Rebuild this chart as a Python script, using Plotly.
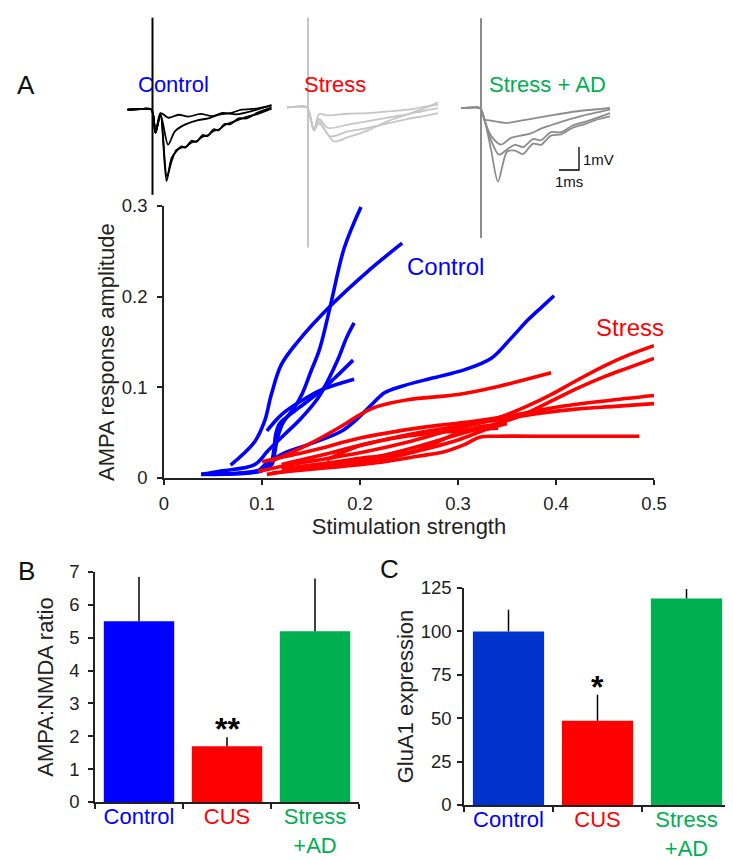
import plotly.graph_objects as go

# ---------------- data ----------------
# Panel A: input-output curves (stimulation strength vs AMPA response amplitude)
control_x = [
    [0.05, 0.08, 0.100, 0.110, 0.113, 0.116, 0.122, 0.132, 0.141, 0.149, 0.159, 0.170, 0.184, 0.201],
    [0.068, 0.0925, 0.1027, 0.1095, 0.1197, 0.137, 0.171, 0.208, 0.243],
    [0.105, 0.120, 0.140, 0.160, 0.194],
    [0.038, 0.07, 0.0925, 0.108, 0.112, 0.114, 0.118, 0.125, 0.137, 0.160, 0.174, 0.193],
    [0.038, 0.058, 0.0925, 0.106, 0.123, 0.140, 0.157, 0.167, 0.178, 0.186, 0.194],
    [0.045, 0.075, 0.096, 0.103, 0.123, 0.147, 0.181, 0.198, 0.212, 0.225, 0.242, 0.273, 0.307, 0.334, 0.354, 0.372, 0.386, 0.398],
]
control_y = [
    [0.004, 0.005, 0.008, 0.015, 0.028, 0.045, 0.062, 0.076, 0.093, 0.115, 0.143, 0.191, 0.254, 0.299],
    [0.0143, 0.040, 0.063, 0.092, 0.125, 0.151, 0.191, 0.228, 0.259],
    [0.052, 0.070, 0.085, 0.097, 0.109],
    [0.004, 0.005, 0.0075, 0.014, 0.030, 0.048, 0.060, 0.067, 0.077, 0.096, 0.110, 0.130],
    [0.004, 0.0077, 0.0147, 0.030, 0.048, 0.066, 0.088, 0.107, 0.132, 0.154, 0.171],
    [0.004, 0.005, 0.0077, 0.0147, 0.0276, 0.0368, 0.0515, 0.066, 0.081, 0.094, 0.101, 0.110, 0.1195, 0.132, 0.154, 0.175, 0.189, 0.201],
]
stress_x = [
    [0.109, 0.147, 0.184, 0.201, 0.218, 0.249, 0.300, 0.341, 0.395],
    [0.096, 0.13, 0.17, 0.21, 0.25, 0.29, 0.32, 0.345, 0.37, 0.395, 0.42, 0.45, 0.475, 0.50],
    [0.105, 0.14, 0.18, 0.22, 0.26, 0.30, 0.33, 0.36, 0.39, 0.42, 0.45, 0.475, 0.50],
    [0.10, 0.15, 0.20, 0.24, 0.28, 0.32, 0.36, 0.40, 0.45, 0.50],
    [0.12, 0.16, 0.20, 0.25, 0.30, 0.34, 0.38, 0.42, 0.46, 0.50],
    [0.11, 0.164, 0.215, 0.259, 0.286, 0.307, 0.322, 0.34, 0.40, 0.485],
    [0.166, 0.198, 0.23, 0.27, 0.31, 0.341],
    [0.12, 0.17, 0.21, 0.24, 0.26, 0.28, 0.30, 0.32, 0.335],
    [0.14, 0.18, 0.22, 0.26, 0.30, 0.33, 0.35],
]
stress_y = [
    [0.0184, 0.0368, 0.059, 0.0706, 0.079, 0.0864, 0.092, 0.101, 0.116],
    [0.0074, 0.015, 0.022, 0.030, 0.040, 0.052, 0.060, 0.068, 0.079, 0.092, 0.107, 0.124, 0.136, 0.146],
    [0.004, 0.010, 0.016, 0.024, 0.035, 0.048, 0.057, 0.067, 0.082, 0.098, 0.112, 0.122, 0.132],
    [0.018, 0.030, 0.044, 0.052, 0.058, 0.063, 0.070, 0.078, 0.085, 0.091],
    [0.015, 0.025, 0.036, 0.048, 0.057, 0.064, 0.071, 0.076, 0.079, 0.082],
    [0.0055, 0.011, 0.0165, 0.024, 0.029, 0.037, 0.045, 0.046, 0.046, 0.046],
    [0.020, 0.035, 0.043, 0.049, 0.053, 0.055],
    [0.010, 0.017, 0.023, 0.026, 0.031, 0.040, 0.050, 0.056, 0.058],
    [0.010, 0.016, 0.020, 0.030, 0.042, 0.054, 0.060],
]

# Example field-potential traces (time in ms from stimulus, voltage in mV)
ctrl_t = [
    [-1.25, -0.6, -0.05, 0.15, 0.4, 0.8, 1.3, 1.8, 2.4, 3.0, 3.5, 4.2, 5.0, 5.95],
    [-1.25, -0.6, -0.05, 0.15, 0.4, 0.78, 1.12, 1.62, 2.28, 2.8, 3.28, 3.9, 4.45, 5.2, 5.95],
    [-1.25, -0.6, -0.05, 0.15, 0.4, 0.7, 0.95, 1.2, 1.45, 1.65, 1.95, 2.2, 2.5, 2.75, 3.05, 3.3, 3.6, 3.9, 4.3, 4.7, 5.2, 5.95],
    [-1.25, -0.6, -0.05, 0.15, 0.4, 0.72, 0.97, 1.2, 1.45, 1.7, 1.95, 2.25, 2.5, 2.8, 3.05, 3.35, 3.6, 3.95, 4.3, 4.75, 5.2, 5.95],
]
ctrl_v = [
    [0, 0.03, 0, -1.0, -0.15, -0.35, -0.22, -0.3, -0.18, -0.28, -0.14, -0.2, -0.05, 0.2],
    [0, 0.03, 0, -1.0, -0.2, -1.52, -0.94, -0.65, -0.45, -0.38, -0.22, -0.15, 0.0, 0.05, 0.19],
    [0, 0.03, 0, -1.0, -0.2, -3.1, -2.1, -1.8, -1.6, -1.65, -1.35, -1.4, -1.1, -1.15, -0.85, -0.9, -0.62, -0.63, -0.38, -0.38, -0.15, 0.1],
    [0, 0.03, 0, -1.0, -0.2, -2.9, -2.2, -1.75, -1.65, -1.6, -1.42, -1.35, -1.17, -1.1, -0.92, -0.85, -0.67, -0.55, -0.44, -0.3, -0.2, 0.05],
]
stress_t = [
    [-1.05, -0.5, -0.05, 0.3, 0.55, 1.0, 2.0, 3.0, 4.0, 5.0, 5.8, 6.5],
    [-1.05, -0.5, -0.05, 0.3, 0.55, 1.0, 2.0, 3.0, 4.0, 5.0, 5.8, 6.5],
    [-1.05, -0.5, -0.05, 0.3, 0.55, 1.1, 2.0, 3.0, 4.0, 5.0, 5.8, 6.5],
    [-1.05, -0.5, -0.05, 0.3, 0.55, 1.3, 2.0, 3.0, 4.0, 5.0, 5.8, 6.5],
]
stress_v = [
    [0, 0.03, 0, -1.0, -0.3, -0.35, -0.28, -0.25, -0.18, -0.1, 0.02, 0.12],
    [0, 0.03, 0, -1.0, -0.5, -0.9, -0.75, -0.6, -0.45, -0.3, -0.15, -0.05],
    [0, 0.03, 0, -1.0, -0.6, -1.26, -1.05, -0.9, -0.7, -0.5, -0.38, -0.25],
    [0, 0.03, 0, -1.0, -0.7, -1.48, -1.3, -1.0, -0.6, -0.3, -0.05, 0.22],
]
ad_t = [
    [-1.0, -0.5, -0.05, 0.2, 0.5, 1.3, 2.0, 3.0, 4.0, 5.0, 6.45],
    [-1.0, -0.5, -0.05, 0.2, 0.5, 1.0, 1.5, 2.0, 2.5, 3.0, 3.5, 4.0, 5.0, 6.45],
    [-1.0, -0.5, -0.05, 0.2, 0.5, 0.9, 1.3, 1.7, 2.1, 2.6, 3.0, 3.5, 4.0, 4.6, 5.2, 6.45],
    [-1.0, -0.5, -0.05, 0.2, 0.5, 0.85, 1.3, 1.7, 2.1, 2.6, 3.0, 3.5, 4.0, 4.6, 5.2, 5.8, 6.45],
]
ad_v = [
    [0, 0.02, 0, -0.5, -0.55, -0.65, -0.55, -0.4, -0.25, -0.12, 0.0],
    [0, 0.02, 0, -0.6, -1.2, -1.59, -1.3, -1.2, -1.1, -0.9, -0.75, -0.6, -0.35, -0.07],
    [0, 0.02, 0, -0.6, -1.4, -2.03, -1.8, -1.6, -1.7, -1.35, -1.4, -1.05, -1.05, -0.75, -0.6, -0.22],
    [0, 0.02, 0, -0.6, -1.8, -3.2, -1.9, -1.85, -2.0, -1.55, -1.6, -1.2, -1.15, -0.85, -0.7, -0.5, -0.36],
]
# stimulus artefact extent (mV above / below baseline)
artefact_top = [4.0, 3.9, 3.9]
artefact_bottom = [-3.7, -6.1, -5.65]

# Panels B and C
groups = ["Control", "CUS", "Stress<br>+AD"]
ampa_nmda = [5.5, 1.7, 5.2]
ampa_nmda_err = [1.35, 0.27, 1.6]
glua1 = [100, 48.5, 119]
glua1_err = [12.5, 15, 5.4]

# ---------------- styling ----------------
W, H = 733, 860
FONT = "Liberation Sans, Arial, sans-serif"
BLUE, RED, GREEN = "#0000FF", "#FF0000", "#00B050"
AXC = "#222222"


def px_x(p):
    return p / W


def px_y(p):
    return 1 - p / H


fig = go.Figure()

for xs, ys in zip(control_x, control_y):
    fig.add_trace(go.Scatter(x=xs, y=ys, mode="lines", line=dict(color=BLUE, width=3.6, shape="spline"),
                             xaxis="x", yaxis="y", showlegend=False, hoverinfo="skip"))
for xs, ys in zip(stress_x, stress_y):
    fig.add_trace(go.Scatter(x=xs, y=ys, mode="lines", line=dict(color=RED, width=3.6, shape="spline"),
                             xaxis="x", yaxis="y", showlegend=False, hoverinfo="skip"))

# traces overlay: 1 ms = 20 px, 1 mV = 23 px, whole figure as the plotting area
MS_PX, MV_PX = 20.0, 23.0
trace_groups = [
    (ctrl_t, ctrl_v, "#000000", 144.5 / MS_PX, (100 - 101.7) / MV_PX),
    (stress_t, stress_v, "#C6C6C6", 300.0 / MS_PX, (100 - 99.3) / MV_PX),
    (ad_t, ad_v, "#8C8C8C", 473.0 / MS_PX, 0.0),
]
for gi, (ts, vs, col, t0, v0) in enumerate(trace_groups):
    fig.add_trace(go.Scatter(x=[t0, t0], y=[v0 + artefact_top[gi], v0 + artefact_bottom[gi]], mode="lines",
                             line=dict(color=col, width=2), xaxis="x4", yaxis="y4",
                             showlegend=False, hoverinfo="skip"))
    for t, v in zip(ts, vs):
        fig.add_trace(go.Scatter(x=[t0 + a for a in t], y=[v0 + b for b in v], mode="lines",
                                 line=dict(color=col, width=1.8, shape="spline", smoothing=0.8),
                                 xaxis="x4", yaxis="y4", showlegend=False, hoverinfo="skip"))

# scale bar 1 ms / 1 mV
sb_t, sb_v = 571 / MS_PX, (100 - 162) / MV_PX
fig.add_trace(go.Scatter(x=[sb_t - 1, sb_t, sb_t], y=[sb_v, sb_v, sb_v + 1], mode="lines",
                         line=dict(color="#000000", width=1.3), xaxis="x4", yaxis="y4",
                         showlegend=False, hoverinfo="skip"))

# bar panels
fig.add_trace(go.Bar(x=[0, 1, 2], y=ampa_nmda, width=0.8, marker=dict(color=[BLUE, RED, GREEN], line=dict(width=0)),
                     error_y=dict(type="data", array=ampa_nmda_err, arrayminus=[0, 0, 0], symmetric=False,
                                  color="#000000", thickness=1.5, width=0),
                     xaxis="x2", yaxis="y2", showlegend=False, hoverinfo="skip"))
fig.add_trace(go.Bar(x=[0, 1, 2], y=glua1, width=0.8, marker=dict(color=["#0033CC", RED, GREEN], line=dict(width=0)),
                     error_y=dict(type="data", array=glua1_err, arrayminus=[0, 0, 0], symmetric=False,
                                  color="#000000", thickness=1.5, width=0),
                     xaxis="x3", yaxis="y3", showlegend=False, hoverinfo="skip"))

tick_colors = [BLUE, RED, GREEN]
cat_text = ['<span style="color:%s">%s</span>' % (c, g.replace("<br>", '</span><br><span style="color:%s">' % c))
            for c, g in zip(tick_colors, groups)]

axis_common = dict(showgrid=False, zeroline=False, showline=True, linecolor=AXC, linewidth=1.5,
                   ticks="outside", ticklen=5, tickwidth=1.5, tickcolor=AXC,
                   tickfont=dict(size=18.5, color=AXC, family=FONT), automargin=False)

cat_axis = dict(axis_common, range=[-0.5, 2.5], tickvals=[0, 1, 2], ticktext=cat_text, ticks="",
                tickfont=dict(size=22, family=FONT), ticklabelstandoff=-6,
                minor=dict(tickvals=[-0.5, 0.5, 1.5, 2.5], ticks="outside", ticklen=5, tickwidth=1.5, tickcolor=AXC))

fig.update_layout(
    width=W, height=H,
    margin=dict(l=0, r=0, t=0, b=0),
    paper_bgcolor="white", plot_bgcolor="rgba(0,0,0,0)",
    font=dict(family=FONT, color=AXC),
    xaxis=dict(axis_common, domain=[px_x(156), px_x(646)], range=[0, 0.5], anchor="y", ticklabelstandoff=3,
               tickvals=[0, 0.1, 0.2, 0.3, 0.4, 0.5], ticktext=["0", "0.1", "0.2", "0.3", "0.4", "0.5"],
               title=dict(text="Stimulation strength", font=dict(size=22), standoff=6)),
    yaxis=dict(axis_common, domain=[px_y(470), px_y(198)], range=[0, 0.3], anchor="x", ticklabelstandoff=6,
               tickvals=[0, 0.1, 0.2, 0.3], ticktext=["0", "0.1", "0.2", "0.3"]),
    xaxis2=dict(cat_axis, domain=[px_x(87), px_x(351)], anchor="y2"),
    yaxis2=dict(axis_common, domain=[px_y(794), px_y(564)], range=[0, 7], dtick=1, anchor="x2",
                ticklabelstandoff=5,
                title=dict(text="AMPA:NMDA ratio", font=dict(size=22), standoff=10)),
    xaxis3=dict(cat_axis, domain=[px_x(456), px_x(723)], anchor="y3"),
    yaxis3=dict(axis_common, domain=[px_y(797), px_y(580)], range=[0, 125], dtick=25, anchor="x3",
                ticklabelstandoff=2,
                title=dict(text="GluA1 expression", font=dict(size=22), standoff=1)),
    xaxis4=dict(domain=[0, 1], range=[0, W / MS_PX], visible=False, anchor="y4", fixedrange=True),
    yaxis4=dict(domain=[0, 1], range=[(100 - H) / MV_PX, 100 / MV_PX], visible=False, anchor="x4", fixedrange=True),
)

ann = []
# main y-axis title, placed slightly below the domain centre as in the original
ann.append(dict(text="AMPA response amplitude", x=px_x(98), y=px_y(344), xref="paper", yref="paper",
                showarrow=False, textangle=-90, font=dict(size=22, color=AXC, family=FONT),
                xanchor="center", yanchor="middle"))
# panel letters
for letter, xp, yp in [("A", 18, 77), ("B", 18, 563), ("C", 381, 561)]:
    ann.append(dict(text=letter, x=px_x(xp), y=px_y(yp), xref="paper", yref="paper", showarrow=False,
                    font=dict(size=26, color="#111111", family=FONT), xanchor="center", yanchor="middle"))
# trace labels
for txt, col, xp in [("Control", BLUE, 165), ("Stress", RED, 327), ("Stress + AD", GREEN, 539)]:
    ann.append(dict(text=txt, x=px_x(xp), y=px_y(77), xref="paper", yref="paper", showarrow=False,
                    font=dict(size=22, color=col, family=FONT), xanchor="center", yanchor="middle"))
# scale bar labels
ann.append(dict(text="1mV", x=sb_t + 0.12, y=sb_v + 0.45, xref="x4", yref="y4", showarrow=False,
                font=dict(size=15, color="#111111", family=FONT), xanchor="left", yanchor="middle"))
ann.append(dict(text="1ms", x=sb_t - 0.5, y=sb_v - 0.5, xref="x4", yref="y4", showarrow=False,
                font=dict(size=15, color="#111111", family=FONT), xanchor="center", yanchor="middle"))
# curve labels in panel A
ann.append(dict(text="Control", x=0.287, y=0.233, xref="x", yref="y", showarrow=False,
                font=dict(size=24, color=BLUE, family=FONT)))
ann.append(dict(text="Stress", x=0.4755, y=0.1665, xref="x", yref="y", showarrow=False,
                font=dict(size=24, color=RED, family=FONT)))
# significance stars
ann.append(dict(text="<b>**</b>", x=1, y=ampa_nmda[1] + ampa_nmda_err[1], xref="x2", yref="y2", showarrow=False,
                font=dict(size=32, color="#000000", family=FONT), yanchor="bottom", yshift=-12))
ann.append(dict(text="<b>*</b>", x=1, y=glua1[1] + glua1_err[1], xref="x3", yref="y3", showarrow=False,
                font=dict(size=32, color="#000000", family=FONT), yanchor="bottom", yshift=-12))
fig.update_layout(annotations=ann)

fig.write_html("out.html")
